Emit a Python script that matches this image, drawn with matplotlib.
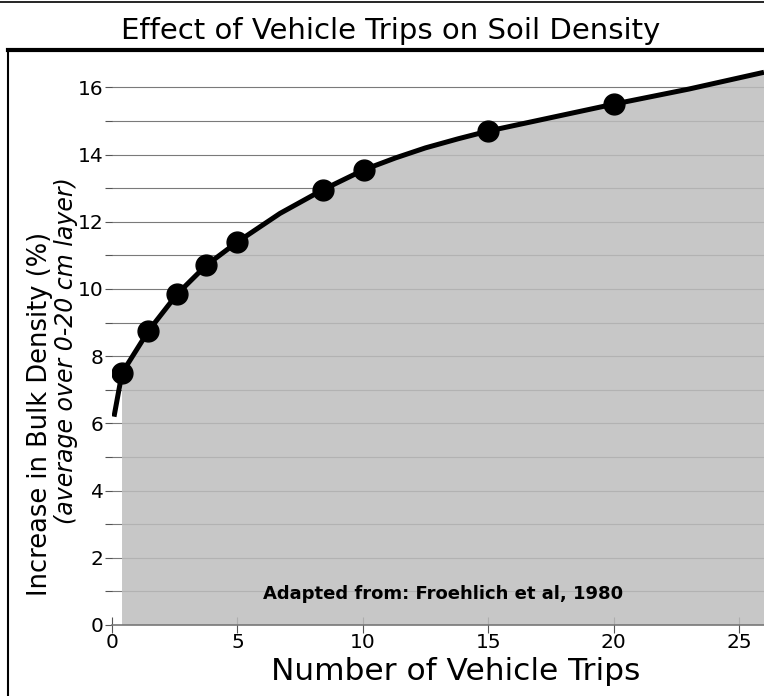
import numpy as np
import matplotlib
matplotlib.use("Agg")
import matplotlib.pyplot as plt
from matplotlib.lines import Line2D

# measured points (trips, % increase in bulk density)
trips = [0.4, 1.45, 2.6, 3.75, 5.0, 8.4, 10.05, 15.0, 20.0]
density = [7.5, 8.75, 9.85, 10.7, 11.4, 12.95, 13.55, 14.7, 15.5]

# fitted curve drawn through them
curve_x = [0.08, 0.4, 1.45, 2.6, 3.75, 5.0, 6.7, 8.4, 10.05, 11.3, 12.5, 13.8, 15.0, 17.5, 20.0, 23.0, 26.0]
curve_y = [6.2, 7.5, 8.75, 9.85, 10.7, 11.4, 12.25, 12.95, 13.55, 13.9, 14.2, 14.47, 14.7, 15.1, 15.5, 15.95, 16.45]

fig = plt.figure(figsize=(7.64, 6.96), dpi=100)
ax = fig.add_axes([112 / 764, 71 / 696, 1 - 112 / 764, (625 - 50) / 696])

ax.set_xlim(0, 26)
ax.set_ylim(0, (625 - 50) / 33.6)

# horizontal grid at every unit
for v in range(1, 17):
    ax.axhline(v, color="#7a7a7a", lw=0.8, zorder=1)

# shaded area under curve
cx = np.array(curve_x)
cy = np.array(curve_y)
mask = cx >= trips[0]
ax.fill_between(cx[mask], 0, cy[mask], facecolor="#bdbdbd", alpha=0.85,
                edgecolor="none", zorder=2)

ax.plot(curve_x, curve_y, color="black", lw=3.6, zorder=3, solid_capstyle="butt")
ax.plot(trips, density, "o", color="black", ms=15, zorder=4)

ax.text(13.2, 0.92, "Adapted from: Froehlich et al, 1980", fontsize=13,
        fontweight="bold", ha="center", va="center", zorder=5)

ax.set_xticks([0, 5, 10, 15, 20, 25])
ax.set_yticks(range(0, 17, 2))
ax.set_yticks(range(1, 17, 2), minor=True)
ax.tick_params(axis="x", direction="inout", length=11, width=0.8, labelsize=14.5,
               color="#555555", pad=0)
ax.tick_params(axis="y", which="both", direction="out", length=5, width=0.8,
               labelsize=14.5, color="#555555", pad=1)
for s in ["top", "right", "left"]:
    ax.spines[s].set_visible(False)
ax.spines["bottom"].set_color("#777777")
ax.spines["bottom"].set_linewidth(1.2)

ax.set_xlabel("Number of Vehicle Trips", fontsize=22.5, labelpad=1)
ax.xaxis.set_label_coords((456 - 112) / 652, -0.055)
fig.text(40 / 764, 1 - 414 / 696, "Increase in Bulk Density (%)", rotation=90,
         fontsize=18.5, ha="center", va="center")
fig.text(66 / 764, 1 - 351 / 696, "(average over 0-20 cm layer)", rotation=90,
         fontsize=17, style="italic", ha="center", va="center")

fig.text(0.511, 1 - 31 / 696, "Effect of Vehicle Trips on Soil Density",
         fontsize=21, ha="center", va="center")

# frame lines
fig.add_artist(Line2D([0, 1], [1 - 2 / 696, 1 - 2 / 696], color="black", lw=1.2))
fig.add_artist(Line2D([8 / 764, 1], [1 - 50 / 696, 1 - 50 / 696], color="black", lw=3))
fig.add_artist(Line2D([8 / 764, 8 / 764], [0, 1 - 50 / 696], color="black", lw=1.5))

fig.savefig("out.png", dpi=100)
